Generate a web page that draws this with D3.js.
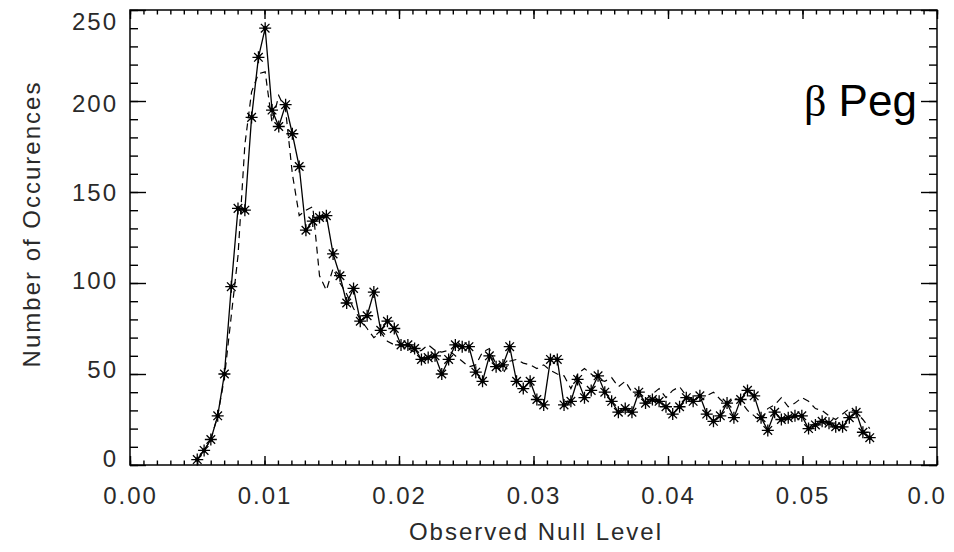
<!DOCTYPE html>
<html>
<head>
<meta charset="utf-8">
<script src="https://cdn.jsdelivr.net/npm/d3@7"></script>
<style>
  body { margin: 0; background: #fff; }
  svg { display: block; }
  text { font-family: "Liberation Sans", Arial, sans-serif; }
</style>
</head>
<body>
<svg id="chart" width="954" height="552"></svg>
<script>
// Histogram bin locations (observed null level)
const nullLevel = [
  0.00500, 0.00551, 0.00601, 0.00652, 0.00702, 0.00753, 0.00803, 0.00854, 0.00904, 0.00955,
  0.01005, 0.01056, 0.01106, 0.01157, 0.01207, 0.01258, 0.01308, 0.01359, 0.01409, 0.01460,
  0.01510, 0.01561, 0.01611, 0.01662, 0.01712, 0.01763, 0.01813, 0.01864, 0.01914, 0.01965,
  0.02015, 0.02066, 0.02116, 0.02167, 0.02217, 0.02268, 0.02318, 0.02369, 0.02419, 0.02470,
  0.02520, 0.02571, 0.02621, 0.02672, 0.02722, 0.02773, 0.02823, 0.02874, 0.02924, 0.02975,
  0.03025, 0.03076, 0.03126, 0.03177, 0.03227, 0.03278, 0.03328, 0.03379, 0.03429, 0.03480,
  0.03530, 0.03581, 0.03631, 0.03682, 0.03732, 0.03783, 0.03833, 0.03884, 0.03934, 0.03985,
  0.04035, 0.04086, 0.04136, 0.04187, 0.04237, 0.04288, 0.04338, 0.04389, 0.04439, 0.04490,
  0.04540, 0.04591, 0.04641, 0.04692, 0.04742, 0.04793, 0.04843, 0.04894, 0.04944, 0.04995,
  0.05045, 0.05096, 0.05146, 0.05197, 0.05247, 0.05298, 0.05348, 0.05399, 0.05449, 0.05500
];

// Number of occurences per bin, measured null (solid line with asterisks)
const measuredCounts = [
    3,   8,  14,  27,  50,  98, 141, 140, 191, 224,
  240, 195, 186, 198, 182, 164, 129, 134, 136, 137,
  116, 104,  89,  97,  79,  82,  95,  74,  79,  75,
   66,  66,  64,  58,  59,  60,  50,  58,  66,  65,
   65,  51,  46,  60,  54,  55,  65,  46,  42,  46,
   36,  33,  58,  58,  33,  35,  47,  37,  41,  49,
   40,  35,  29,  31,  29,  40,  34,  36,  35,  32,
   28,  32,  37,  35,  38,  28,  24,  27,  34,  26,
   36,  41,  38,  26,  19,  29,  25,  26,  27,  27,
   20,  22,  24,  23,  21,  21,  26,  29,  18,  15
];

// Number of occurences per bin, second distribution (dashed line)
const dashedCounts = [
    3,   8,  14,  27,  48,  82, 115, 176, 205, 215,
  216, 188, 203, 195, 160, 137, 140, 142, 104,  96,
  108, 100,  94,  86,  80,  75,  70,  73,  68,  66,
   66,  64,  62,  63,  66,  63,  62,  63,  60,  57,
   54,  55,  62,  64,  55,  50,  57,  58,  56,  55,
   53,  55,  52,  50,  49,  42,  50,  53,  50,  47,
   46,  48,  43,  46,  40,  38,  36,  39,  42,  37,
   41,  43,  38,  36,  35,  38,  40,  36,  33,  37,
   35,  30,  27,  24,  31,  33,  37,  32,  34,  37,
   35,  31,  30,  27,  25,  28,  31,  29,  25,  20
];

const xTickValues = [0, 0.01, 0.02, 0.03, 0.04, 0.05, 0.06];
// the last label runs into the page edge, so only its first characters are shown
const xTickLabels = ["0.00", "0.01", "0.02", "0.03", "0.04", "0.05", "0.0"];
const yTickValues = [0, 50, 100, 150, 200, 250];
const yTickLabels = ["0", "50", "100", "150", "200", "250"];

const svg = d3.select("#chart");
const plotLeft = 130, plotRight = 937, plotTop = 10, plotBottom = 465;
const textColor = "#2a2a2a";

const x = d3.scaleLinear().domain([0, 0.06]).range([plotLeft, plotRight]);
const y = d3.scaleLinear().domain([0, 250]).range([plotBottom, plotTop]);
// vertical placement of the y tick labels (end labels are kept inside the frame)
const yLabelPos = d3.scaleLinear().domain([0, 200, 250]).range([458, 102.5, 21]);

const xMinor = d3.range(0, 61).map(i => i / 1000);
const yMinor = d3.range(0, 26).map(i => i * 10);

function styleAxis(g) {
  g.select(".domain").remove();
  g.selectAll("line").attr("stroke", "#000").attr("stroke-width", 1.4);
  g.selectAll("text")
    .attr("fill", textColor)
    .style("font-size", "24px")
    .style("letter-spacing", "2px");
}

// bottom axis: minor + major ticks pointing inward, with labels
svg.append("g").attr("transform", `translate(0,${plotBottom})`)
  .call(d3.axisBottom(x).tickValues(xMinor).tickSize(-4.5).tickFormat(""))
  .call(styleAxis);
const xAxisG = svg.append("g").attr("transform", `translate(0,${plotBottom})`)
  .call(d3.axisBottom(x).tickValues(xTickValues).tickSize(-9).tickPadding(22)
        .tickFormat((d, i) => xTickLabels[i]))
  .call(styleAxis);
// last label starts where a centred "0.06" would start
xAxisG.selectAll(".tick text")
  .filter(d => d === 0.06)
  .attr("text-anchor", "start")
  .attr("x", -30);

// top axis: ticks only
svg.append("g").attr("transform", `translate(0,${plotTop})`)
  .call(d3.axisTop(x).tickValues(xMinor).tickSize(-4.5).tickFormat(""))
  .call(styleAxis);
svg.append("g").attr("transform", `translate(0,${plotTop})`)
  .call(d3.axisTop(x).tickValues(xTickValues).tickSize(-9).tickFormat(""))
  .call(styleAxis);

// left axis
svg.append("g").attr("transform", `translate(${plotLeft},0)`)
  .call(d3.axisLeft(y).tickValues(yMinor).tickSize(-8).tickFormat(""))
  .call(styleAxis);
const yAxisG = svg.append("g").attr("transform", `translate(${plotLeft},0)`)
  .call(d3.axisLeft(y).tickValues(yTickValues).tickSize(-16).tickPadding(12)
        .tickFormat((d, i) => yTickLabels[i]))
  .call(styleAxis);
yAxisG.selectAll(".tick text")
  .attr("y", d => yLabelPos(d) - y(d))
  .attr("dy", "0.36em");

// right axis: ticks only
svg.append("g").attr("transform", `translate(${plotRight},0)`)
  .call(d3.axisRight(y).tickValues(yMinor).tickSize(-8).tickFormat(""))
  .call(styleAxis);
svg.append("g").attr("transform", `translate(${plotRight},0)`)
  .call(d3.axisRight(y).tickValues(yTickValues).tickSize(-16).tickFormat(""))
  .call(styleAxis);

// plot frame
svg.append("rect")
  .attr("x", plotLeft).attr("y", plotTop)
  .attr("width", plotRight - plotLeft).attr("height", plotBottom - plotTop)
  .attr("fill", "none").attr("stroke", "#000").attr("stroke-width", 1.5);

// dashed distribution
const idx = d3.range(nullLevel.length);
svg.append("path")
  .datum(idx)
  .attr("fill", "none")
  .attr("stroke", "#000")
  .attr("stroke-width", 1.2)
  .attr("stroke-dasharray", "7,5")
  .attr("d", d3.line().x(i => x(nullLevel[i])).y(i => y(dashedCounts[i])));

// measured distribution: solid line
svg.append("path")
  .datum(idx)
  .attr("fill", "none")
  .attr("stroke", "#000")
  .attr("stroke-width", 1.3)
  .attr("d", d3.line().x(i => x(nullLevel[i])).y(i => y(measuredCounts[i])));

// asterisk markers
const star = "M-6,0H6M0,-6V6M-4.3,-4.3L4.3,4.3M-4.3,4.3L4.3,-4.3";
const marks = svg.append("g").selectAll("g")
  .data(idx).join("g")
  .attr("transform", i => `translate(${x(nullLevel[i])},${y(measuredCounts[i])})`);
marks.append("path").attr("d", star).attr("stroke", "#000").attr("stroke-width", 1.3).attr("fill", "none");
marks.append("circle").attr("r", 2.2).attr("fill", "#000");

// axis titles
svg.append("text")
  .attr("x", 536).attr("y", 540)
  .attr("text-anchor", "middle")
  .attr("fill", textColor)
  .style("font-size", "24px").style("letter-spacing", "2px")
  .text("Observed Null Level");

svg.append("text")
  .attr("transform", "translate(40,224) rotate(-90)")
  .attr("text-anchor", "middle")
  .attr("fill", textColor)
  .style("font-size", "24px").style("letter-spacing", "2px")
  .text("Number of Occurences");

// star label
const lbl = svg.append("text")
  .attr("x", 804).attr("y", 116)
  .attr("fill", "#000")
  .style("font-size", "44px");
lbl.append("tspan").style("font-family", "'Liberation Serif', 'DejaVu Serif', serif").text("β");
lbl.append("tspan").text(" Peg");
</script>
</body>
</html>
